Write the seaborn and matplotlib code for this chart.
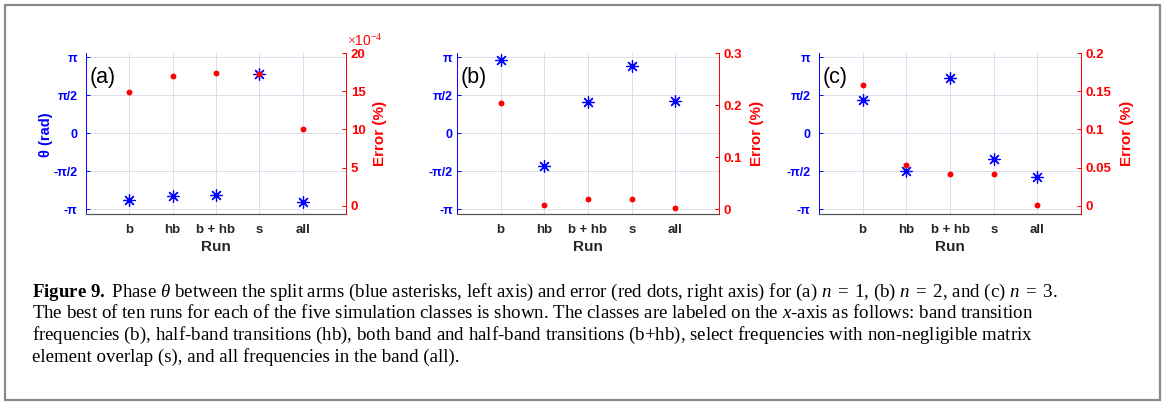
import numpy as np
import pandas as pd
import matplotlib
matplotlib.use("Agg")
import matplotlib.pyplot as plt
from matplotlib import ticker
from matplotlib.patches import Rectangle
import seaborn as sns

# ---- data -------------------------------------------------------------
runs = ["b", "hb", "b + hb", "s", "all"]

theta_a = [-2.77, -2.59, -2.56, 2.43, -2.85]
error_a = [14.9e-4, 17.0e-4, 17.35e-4, 17.25e-4, 10.0e-4]

theta_b = [3.03, -1.34, 1.30, 2.79, 1.34]
error_b = [0.2034, 0.0069, 0.0183, 0.0183, 0.0013]

theta_c = [1.38, -1.56, 2.27, -1.05, -1.82]
error_c = [0.1576, 0.0539, 0.0414, 0.0414, 0.0004]

theta_ticks = [-np.pi, -np.pi / 2, 0, np.pi / 2, np.pi]
theta_tick_labels = ["-π", "-π/2", "0", "π/2", "π"]

error_ticks_a = [0, 5e-4, 10e-4, 15e-4, 20e-4]
error_ticks_b = [0, 0.1, 0.2, 0.3]
error_ticks_c = [0, 0.05, 0.1, 0.15, 0.2]

# panel (a) errors are shown scaled by this power of ten
error_exponent_a = -4

panel_tags = ["(a)", "(b)", "(c)"]

caption_lines = [
    r"$\mathbf{Figure\ 9.}$ Phase $\theta$ between the split arms (blue asterisks, left axis) and error "
    r"(red dots, right axis) for (a) $n\;=\;1$, (b) $n\;=\;2$, and (c) $n\;=\;3$.",
    r"The best of ten runs for each of the five simulation classes is shown. The classes are labeled on "
    r"the $x$-axis as follows: band transition",
    r"frequencies (b), half-band transitions (hb), both band and half-band transitions (b$+$hb), select "
    r"frequencies with non-negligible matrix",
    "element overlap (s), and all frequencies in the band (all).",
]

# ---- style ------------------------------------------------------------
sns.set_style("white")
plt.rcParams["font.family"] = ["Liberation Sans", "DejaVu Sans"]
plt.rcParams["font.weight"] = "normal"
plt.rcParams["mathtext.fontset"] = "custom"
plt.rcParams["mathtext.rm"] = "Liberation Serif"
plt.rcParams["mathtext.it"] = "Liberation Serif:italic"
plt.rcParams["mathtext.bf"] = "Liberation Serif:bold"

BLUE = "#0000ff"
RED = "#ff0000"
DARK = "#262626"
GRID = "#dcdcec"

W, H = 1168, 403
fig = plt.figure(figsize=(W / 100, H / 100), dpi=100)
fig.patch.set_facecolor("white")


def px_rect(left, right, top, bottom):
    return [left / W, 1 - bottom / H, (right - left) / W, (bottom - top) / H]


panels = [
    dict(rect=px_rect(86, 346, 53, 214), theta=theta_a, err=error_a,
         eticks=error_ticks_a, elim=(-1.08e-4, 20e-4), lpad=6.0,
         rlabel_x=1.131, theta_label=True, exponent=error_exponent_a),
    dict(rect=px_rect(457, 719, 53, 214), theta=theta_b, err=error_b,
         eticks=error_ticks_b, elim=(-0.0096, 0.3), lpad=3.0,
         rlabel_x=1.144, theta_label=False, exponent=0),
    dict(rect=px_rect(819, 1081, 53, 214), theta=theta_c, err=error_c,
         eticks=error_ticks_c, elim=(-0.0108, 0.2), lpad=6.0,
         rlabel_x=1.174, theta_label=False, exponent=0),
]

asterisk = (8, 2, 0)

for i, p in enumerate(panels):
    df = pd.DataFrame({"run": runs, "theta": p["theta"], "error": p["err"]})

    ax = fig.add_axes(p["rect"])
    ax.set_facecolor("none")
    sns.scatterplot(data=df, x="run", y="theta", ax=ax, marker=asterisk,
                    s=70, color=BLUE, linewidth=0.9, zorder=3)
    ax.set_xlim(-1, 5)
    ax.set_ylim(-1.064 * np.pi, 1.056 * np.pi)
    ax.set_yticks(theta_ticks, theta_tick_labels)
    ax.grid(True, color=GRID, linewidth=0.7)
    ax.set_axisbelow(True)

    for side in ("top", "right"):
        ax.spines[side].set_visible(False)
    ax.spines["left"].set_color(BLUE)
    ax.spines["left"].set_linewidth(0.7)
    ax.spines["bottom"].set_color("#555555")
    ax.spines["bottom"].set_linewidth(0.9)

    ax.tick_params(axis="y", direction="in", length=3, width=0.7,
                   colors=BLUE, labelsize=9, pad=p["lpad"])
    ax.tick_params(axis="x", direction="in", length=3, width=0.7,
                   color="#555555", labelcolor=DARK, labelsize=9.5, pad=7.5)
    plt.setp(ax.get_yticklabels(), fontweight="bold")
    plt.setp(ax.get_xticklabels(), fontweight="bold")

    ax.set_xlabel("Run", fontsize=11, color=DARK, fontweight="bold")
    ax.xaxis.label.set_va("center")
    ax.xaxis.set_label_coords(0.5, -0.205)
    if p["theta_label"]:
        ax.set_ylabel("θ (rad)", fontsize=10.5, color=BLUE, fontweight="bold")
        ax.yaxis.label.set_va("center")
        ax.yaxis.set_label_coords(-0.155, 0.49)
    else:
        ax.set_ylabel("")

    ax.text(0.014, 0.85, panel_tags[i], transform=ax.transAxes,
            fontsize=15.5, color="black", ha="left", va="center")

    ax2 = ax.twinx()
    ax2.set_facecolor("none")
    sns.scatterplot(data=df, x="run", y="error", ax=ax2, marker="o",
                    s=18, color=RED, linewidth=0, zorder=4)
    ax2.set_xlim(-1, 5)
    ax2.set_ylim(*p["elim"])
    ax2.set_yticks(p["eticks"])
    scale = 10.0 ** (-p["exponent"])
    ax2.yaxis.set_major_formatter(
        ticker.FuncFormatter(lambda v, _, k=scale: f"{round(v * k, 10):g}"))
    if p["exponent"] != 0:
        ax2.text(1.003, 1.045, r"$\times$10$^{%d}$" % p["exponent"],
                 transform=ax2.transAxes, color=RED, fontsize=10,
                 ha="left", va="baseline")
    ax2.grid(False)
    for side in ("top", "left", "bottom"):
        ax2.spines[side].set_visible(False)
    ax2.spines["right"].set_color(RED)
    ax2.spines["right"].set_linewidth(0.7)
    ax2.tick_params(axis="y", direction="in", length=3, width=0.7,
                    colors=RED, labelsize=9.5, pad=3.5)
    plt.setp(ax2.get_yticklabels(), fontweight="bold")
    ax2.set_ylabel("Error (%)", fontsize=11, color=RED, fontweight="bold")
    ax2.yaxis.label.set_va("center")
    ax2.yaxis.set_label_coords(p["rlabel_x"], 0.5)

# ---- caption and frame -----------------------------------------------
baselines = [297, 318.5, 340, 361.5]
for line, yb in zip(caption_lines, baselines):
    fig.text(32 / W, 1 - yb / H, line, family="Liberation Serif",
             fontweight="normal", fontsize=13.6, color="black",
             ha="left", va="baseline")

fig.add_artist(Rectangle((4.5 / W, 1 - 400 / H), (1160 - 4.5) / W, (400 - 4.5) / H,
                         transform=fig.transFigure, fill=False,
                         edgecolor="#8a8a8a", linewidth=1.6))

fig.savefig("out.png", dpi=100, facecolor="white")
